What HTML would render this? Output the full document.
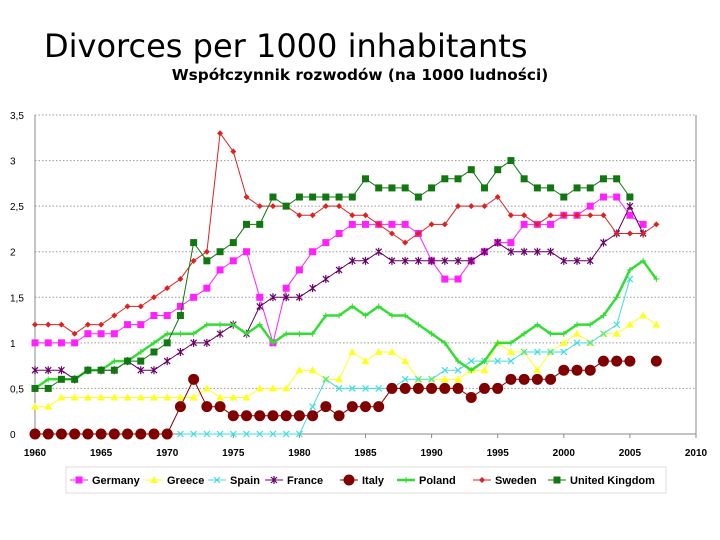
<!DOCTYPE html>
<html><head><meta charset="utf-8"><style>
html,body{margin:0;padding:0;background:#fff;width:720px;height:540px;overflow:hidden}
svg{display:block}
text{font-family:"Liberation Sans","DejaVu Sans",sans-serif}
</style></head><body>
<svg id="c" width="720" height="540" viewBox="0 0 720 540">
<text x="44" y="57" font-size="32" fill="#000" style="font-family:'DejaVu Sans',sans-serif">Divorces per 1000 inhabitants</text>
<text x="360" y="80" font-size="15.3" font-weight="bold" text-anchor="middle" style="font-family:'DejaVu Sans',sans-serif">Współczynnik rozwodów (na 1000 ludności)</text>
<g id="grid"></g><g id="axes"></g><g id="series"></g><g id="legend"></g>
</svg>
<script>
const years=[];for(let y=1960;y<=2007;y++)years.push(y);
const yTicks=[0,0.5,1,1.5,2,2.5,3,3.5];
const yTickLabels=["0","0,5","1","1,5","2","2,5","3","3,5"];
const xTicks=[1960,1965,1970,1975,1980,1985,1990,1995,2000,2005,2010];
const names=["Germany","Greece","Spain","France","Italy","Poland","Sweden","United Kingdom"];
const germany=[1,1,1,1,1.1,1.1,1.1,1.2,1.2,1.3,1.3,1.4,1.5,1.6,1.8,1.9,2.0,1.5,1.0,1.6,1.8,2.0,2.1,2.2,2.3,2.3,2.3,2.3,2.3,2.2,1.9,1.7,1.7,1.9,2.0,2.1,2.1,2.3,2.3,2.3,2.4,2.4,2.5,2.6,2.6,2.4,2.3,null];
const greece=[0.3,0.3,0.4,0.4,0.4,0.4,0.4,0.4,0.4,0.4,0.4,0.4,0.4,0.5,0.4,0.4,0.4,0.5,0.5,0.5,0.7,0.7,0.6,0.6,0.9,0.8,0.9,0.9,0.8,0.6,0.6,0.6,0.6,0.7,0.7,1.0,0.9,0.9,0.7,0.9,1.0,1.1,1.0,1.1,1.1,1.2,1.3,1.2];
const spain=[null,null,null,null,null,null,null,null,null,null,null,0,0,0,0,0,0,0,0,0,0,0.3,0.6,0.5,0.5,0.5,0.5,0.5,0.6,0.6,0.6,0.7,0.7,0.8,0.8,0.8,0.8,0.9,0.9,0.9,0.9,1.0,1.0,1.1,1.2,1.7,null,null];
const france=[0.7,0.7,0.7,0.6,0.7,0.7,0.7,0.8,0.7,0.7,0.8,0.9,1.0,1.0,1.1,1.2,1.1,1.4,1.5,1.5,1.5,1.6,1.7,1.8,1.9,1.9,2.0,1.9,1.9,1.9,1.9,1.9,1.9,1.9,2.0,2.1,2.0,2.0,2.0,2.0,1.9,1.9,1.9,2.1,2.2,2.5,2.2,null];
const italy=[0,0,0,0,0,0,0,0,0,0,0,0.3,0.6,0.3,0.3,0.2,0.2,0.2,0.2,0.2,0.2,0.2,0.3,0.2,0.3,0.3,0.3,0.5,0.5,0.5,0.5,0.5,0.5,0.4,0.5,0.5,0.6,0.6,0.6,0.6,0.7,0.7,0.7,0.8,0.8,0.8,null,0.8];
const poland=[0.5,0.6,0.6,0.6,0.7,0.7,0.8,0.8,0.9,1.0,1.1,1.1,1.1,1.2,1.2,1.2,1.1,1.2,1.0,1.1,1.1,1.1,1.3,1.3,1.4,1.3,1.4,1.3,1.3,1.2,1.1,1.0,0.8,0.7,0.8,1.0,1.0,1.1,1.2,1.1,1.1,1.2,1.2,1.3,1.5,1.8,1.9,1.7];
const sweden=[1.2,1.2,1.2,1.1,1.2,1.2,1.3,1.4,1.4,1.5,1.6,1.7,1.9,2.0,3.3,3.1,2.6,2.5,2.5,2.5,2.4,2.4,2.5,2.5,2.4,2.4,2.3,2.2,2.1,2.2,2.3,2.3,2.5,2.5,2.5,2.6,2.4,2.4,2.3,2.4,2.4,2.4,2.4,2.4,2.2,2.2,2.2,2.3];
const uk=[0.5,0.5,0.6,0.6,0.7,0.7,0.7,0.8,0.8,0.9,1.0,1.3,2.1,1.9,2.0,2.1,2.3,2.3,2.6,2.5,2.6,2.6,2.6,2.6,2.6,2.8,2.7,2.7,2.7,2.6,2.7,2.8,2.8,2.9,2.7,2.9,3.0,2.8,2.7,2.7,2.6,2.7,2.7,2.8,2.8,2.6,null,null];
const seriesData=[germany,greece,spain,france,italy,poland,sweden,uk];
const colors=["#ff22ff","#ffff22","#44dddd","#660066","#800000","#33dd33","#dd2222","#117711"];
const markers=["square","triangle","x","star","circle","plus","diamond","square"];
const widths=[1,1,1,1,1,2.5,1,1];
const X0=35,X1=696,Y0=434,Y1=115;
const sx=v=>X0+(v-1960)/(2010-1960)*(X1-X0);
const sy=v=>Y0-(v/3.5)*(Y0-Y1);
const NS="http://www.w3.org/2000/svg";
function mk(tag,attrs,parent){const e=document.createElementNS(NS,tag);for(const k in attrs)e.setAttribute(k,attrs[k]);parent.appendChild(e);return e;}
const grid=document.getElementById('grid'),axes=document.getElementById('axes'),ser=document.getElementById('series'),leg=document.getElementById('legend');
yTicks.forEach((t,i)=>{
  if(t>0){const g=mk('line',{x1:X0,x2:X1,y1:sy(t),y2:sy(t),stroke:'#999','stroke-dasharray':'1.5,2','stroke-width':1},grid);
  
  }
  const tx=mk('text',{x:10,y:sy(t)+4,'font-size':10,fill:'#000'},axes);tx.textContent=yTickLabels[i];
  
  
});
const ax=mk('path',{d:`M${X0} ${Y1}V${Y0}H${X1}V${Y1}`,fill:'none',stroke:'#888','stroke-width':1},axes);


xTicks.forEach(t=>{
  mk('line',{x1:sx(t),x2:sx(t),y1:Y0,y2:Y0+4,stroke:'#888'},axes);
  const tx=mk('text',{x:sx(t),y:456,'font-size':10,'font-weight':'bold','text-anchor':'middle'},axes);tx.textContent=t;
  
  
});
function marker(type,x,y,c,p){
  if(type==='square')return mk('rect',{x:x-3.5,y:y-3.5,width:7,height:7,fill:c},p);
  if(type==='circle')return mk('circle',{cx:x,cy:y,r:5.5,fill:c},p);
  if(type==='diamond')return mk('path',{d:`M${x} ${y-3}L${x+3} ${y}L${x} ${y+3}L${x-3} ${y}Z`,fill:c},p);
  if(type==='triangle')return mk('path',{d:`M${x} ${y-4}L${x+4} ${y+3}L${x-4} ${y+3}Z`,fill:c},p);
  if(type==='x')return mk('path',{d:`M${x-3} ${y-3}L${x+3} ${y+3}M${x-3} ${y+3}L${x+3} ${y-3}`,stroke:c,'stroke-width':1.2},p);
  if(type==='star')return mk('path',{d:`M${x-3} ${y-3}L${x+3} ${y+3}M${x-3} ${y+3}L${x+3} ${y-3}M${x} ${y-4}V${y+4}`,stroke:c,'stroke-width':1.2},p);
  if(type==='plus')return mk('path',{d:`M${x-3} ${y}H${x+3}M${x} ${y-3}V${y+3}`,stroke:c,'stroke-width':1},p);
}
seriesData.forEach((arr,si)=>{
  const g=mk('g',{},ser);
  
  
  let d='',pen=false;
  arr.forEach((v,i)=>{if(v===null){pen=false;return;}d+=(pen?'L':'M')+sx(years[i]).toFixed(1)+' '+sy(v).toFixed(1);pen=true;});
  mk('path',{d,fill:'none',stroke:colors[si],'stroke-width':widths[si],'stroke-linejoin':'round'},g);
  arr.forEach((v,i)=>{if(v===null)return;const m=marker(markers[si],sx(years[i]),sy(v),colors[si],g);
    
    });
});
const lb=mk('rect',{x:66,y:467,width:600,height:26,fill:'none',stroke:'#ddd'},leg);


const lx=[70,145,208,265,340,397,473,548];
names.forEach((n,i)=>{
  const g=mk('g',{},leg);
  
  
  mk('line',{x1:lx[i],x2:lx[i]+18,y1:480,y2:480,stroke:colors[i],'stroke-width':widths[i]},g);
  marker(markers[i],lx[i]+9,480,colors[i],g);
  const t=mk('text',{x:lx[i]+22,y:484,'font-size':11,'font-weight':'bold'},g);t.textContent=n;
});
</script>
</body></html>
